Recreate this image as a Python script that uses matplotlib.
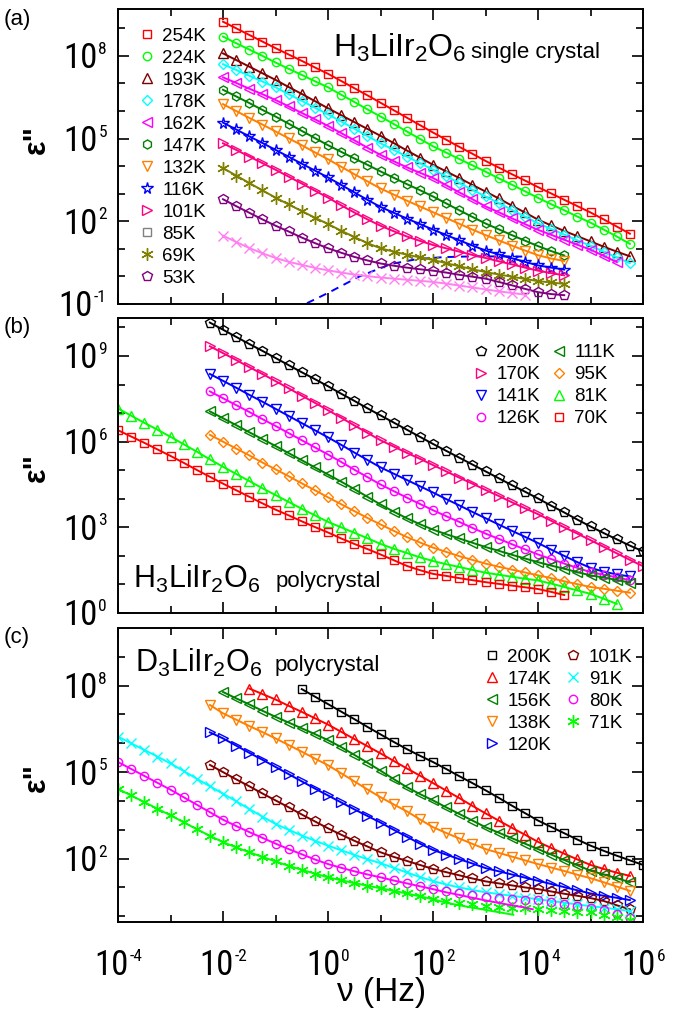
import numpy as np
import matplotlib
matplotlib.use("Agg")
import matplotlib.pyplot as plt
from matplotlib.lines import Line2D
from matplotlib.ticker import NullFormatter
from matplotlib.transforms import blended_transform_factory, offset_copy
from matplotlib import font_manager as fm

# ------------------------------------------------------------------
# DATA : log10(eps''), on a 0.25-decade grid
# ------------------------------------------------------------------
STEP = 0.25

# panel (a)  H3LiIr2O6 single crystal  (all series start at 10^-2 Hz)
a_start = -2.0
a_254K = [9.24, 9.00, 8.76, 8.52, 8.28, 8.05, 7.82, 7.58, 7.35, 7.09, 6.83, 6.57, 6.30, 6.03, 5.76, 5.49,
          5.22, 4.96, 4.70, 4.45, 4.19, 3.95, 3.71, 3.48, 3.24, 3.01, 2.78, 2.55, 2.32, 2.07, 1.81, 1.55]
a_224K = [8.70, 8.46, 8.23, 8.00, 7.76, 7.53, 7.31, 7.08, 6.86, 6.59, 6.33, 6.06, 5.80, 5.53, 5.26, 4.99,
          4.72, 4.49, 4.26, 4.03, 3.80, 3.56, 3.33, 3.09, 2.85, 2.62, 2.40, 2.17, 1.95, 1.70, 1.45, 1.18]
a_193K = [8.09, 7.85, 7.61, 7.37, 7.13, 6.87, 6.62, 6.36, 6.10, 5.85, 5.60, 5.35, 5.10, 4.84, 4.57, 4.31,
          4.05, 3.81, 3.57, 3.32, 3.08, 2.83, 2.57, 2.32, 2.06, 1.85, 1.65, 1.46, 1.27, 1.08, 0.90, 0.73]
a_178K = [7.70, 7.49, 7.28, 7.07, 6.86, 6.61, 6.37, 6.12, 5.88, 5.62, 5.36, 5.09, 4.83, 4.59, 4.35, 4.11,
          3.87, 3.63, 3.39, 3.14, 2.90, 2.66, 2.42, 2.17, 1.93, 1.72, 1.52, 1.31, 1.11, 0.90, 0.69, 0.48]
a_162K = [7.22, 7.02, 6.81, 6.61, 6.40, 6.17, 5.93, 5.70, 5.46, 5.20, 4.94, 4.67, 4.41, 4.18, 3.96, 3.76,
          3.57, 3.31, 3.05, 2.80, 2.54, 2.33, 2.11, 1.90, 1.69, 1.51, 1.33, 1.15, 0.97, 0.75, 0.52]
a_147K = [6.77, 6.53, 6.29, 6.04, 5.80, 5.54, 5.28, 5.02, 4.76, 4.52, 4.28, 4.05, 3.81, 3.58, 3.35, 3.13,
          2.90, 2.65, 2.40, 2.16, 1.92, 1.71, 1.50, 1.30, 1.10, 0.92, 0.76]
a_132K = [6.25, 6.00, 5.75, 5.51, 5.26, 5.01, 4.76, 4.50, 4.25, 3.98, 3.71, 3.45, 3.19, 2.97, 2.75, 2.54,
          2.33, 2.12, 1.91, 1.70, 1.50, 1.31, 1.12, 0.94, 0.77, 0.65, 0.56]
a_116K = [5.58, 5.33, 5.08, 4.84, 4.59, 4.34, 4.09, 3.84, 3.59, 3.32, 3.05, 2.78, 2.52, 2.31, 2.10, 1.90,
          1.70, 1.50, 1.31, 1.12, 0.94, 0.80, 0.66, 0.53, 0.40, 0.32, 0.25]
a_101K = [4.83, 4.59, 4.35, 4.11, 3.87, 3.62, 3.37, 3.11, 2.86, 2.58, 2.32, 2.07, 1.84, 1.64, 1.45, 1.29,
          1.14, 1.02, 0.90, 0.78, 0.67, 0.55, 0.44, 0.32, 0.21, 0.12, 0.04]
a_69K = [3.93, 3.66, 3.39, 3.12, 2.86, 2.61, 2.37, 2.13, 1.90, 1.66, 1.43, 1.21, 1.02, 0.90, 0.79, 0.69,
         0.60, 0.48, 0.37, 0.26, 0.16, 0.07, -0.01, -0.09, -0.17, -0.22, -0.27]
a_53K = [2.80, 2.55, 2.31, 2.07, 1.84, 1.63, 1.41, 1.21, 1.02, 0.86, 0.71, 0.58, 0.47, 0.39, 0.32, 0.26,
         0.21, 0.14, 0.06, -0.01, -0.08, -0.20, -0.32, -0.45, -0.57, -0.64, -0.68]
a_85K = [1.48, 1.25, 1.03, 0.84, 0.67, 0.53, 0.42, 0.31, 0.22, 0.14, 0.07, 0.01, -0.04, -0.08, -0.12, -0.16,
         -0.20, -0.26, -0.33, -0.40, -0.47, -0.54, -0.60, -0.66]
# blue dashed relaxation curve in (a)
a_dash_logf = [-0.4, 0.0, 0.6, 1.2, 1.7, 2.2, 2.8, 3.7]
a_dash_logv = [-0.97, -0.60, 0.00, 0.45, 0.63, 0.70, 0.73, 0.72]

# panel (b)  H3LiIr2O6 polycrystal
b_start_hi = -2.25
b_start_lo = -4.0
b_200K = [10.17, 9.92, 9.67, 9.42, 9.18, 8.93, 8.68, 8.43, 8.19, 7.94, 7.68, 7.43, 7.17, 6.92, 6.67, 6.42,
          6.17, 5.92, 5.68, 5.44, 5.20, 4.96, 4.72, 4.48, 4.25, 4.01, 3.76, 3.52, 3.27, 3.03, 2.80, 2.58,
          2.36, 2.16]
b_170K = [9.34, 9.10, 8.86, 8.61, 8.37, 8.12, 7.87, 7.61, 7.36, 7.10, 6.84, 6.57, 6.31, 6.05, 5.83, 5.61,
          5.40, 5.18, 4.96, 4.74, 4.53, 4.31, 4.10, 3.88, 3.67, 3.46, 3.23, 3.00, 2.78, 2.55, 2.32, 2.09,
          1.86, 1.64]
b_141K = [8.37, 8.13, 7.89, 7.64, 7.40, 7.15, 6.90, 6.65, 6.40, 6.15, 5.89, 5.62, 5.36, 5.10, 4.88, 4.66,
          4.44, 4.22, 3.99, 3.77, 3.54, 3.32, 3.10, 2.88, 2.67, 2.45, 2.22, 2.00, 1.78, 1.58, 1.45, 1.35, 1.28]
b_126K = [7.76, 7.52, 7.28, 7.04, 6.79, 6.55, 6.30, 6.05, 5.80, 5.55, 5.29, 5.02, 4.76, 4.50, 4.27, 4.04,
          3.82, 3.60, 3.39, 3.19, 2.98, 2.78, 2.60, 2.41, 2.23, 2.05, 1.89, 1.73, 1.58, 1.43, 1.34, 1.25, 1.15]
b_111K = [7.06, 6.82, 6.58, 6.33, 6.09, 5.85, 5.60, 5.35, 5.10, 4.85, 4.60, 4.34, 4.07, 3.80, 3.55, 3.32,
          3.11, 2.92, 2.76, 2.61, 2.46, 2.31, 2.18, 2.04, 1.91, 1.78, 1.66, 1.55, 1.43, 1.32, 1.24, 1.16, 1.06]
b_95K = [6.24, 6.00, 5.76, 5.52, 5.27, 5.03, 4.79, 4.54, 4.30, 4.05, 3.81, 3.57, 3.33, 3.10, 2.88, 2.66,
         2.47, 2.29, 2.14, 1.99, 1.86, 1.73, 1.62, 1.52, 1.42, 1.32, 1.22, 1.11, 1.01, 0.91, 0.85, 0.78, 0.71]
b_81K = [7.16, 6.91, 6.66, 6.42, 6.17, 5.91, 5.65, 5.38, 5.12, 4.87, 4.62, 4.37, 4.13, 3.89, 3.65, 3.42,
         3.19, 3.00, 2.81, 2.62, 2.42, 2.25, 2.10, 1.95, 1.82, 1.71, 1.61, 1.51, 1.41, 1.34, 1.27, 1.20,
         1.14, 1.03, 0.91, 0.79, 0.67, 0.50, 0.32]
b_70K = [6.40, 6.18, 5.96, 5.73, 5.50, 5.26, 5.01, 4.77, 4.53, 4.30, 4.07, 3.84, 3.62, 3.42, 3.21, 3.01,
         2.82, 2.61, 2.42, 2.24, 2.05, 1.85, 1.65, 1.50, 1.37, 1.30, 1.22, 1.15, 1.08, 1.02, 0.96, 0.90,
         0.84, 0.74, 0.63]

# panel (c)  D3LiIr2O6 polycrystal
c_200K_start = -0.5
c_200K = [7.88, 7.62, 7.36, 7.10, 6.84, 6.57, 6.31, 6.05, 5.80, 5.57, 5.35, 5.11, 4.86, 4.62, 4.37, 4.11,
          3.84, 3.58, 3.32, 3.10, 2.88, 2.66, 2.45, 2.27, 2.10, 1.94, 1.78]
c_174K_start = -1.5
c_174K = [7.90, 7.71, 7.52, 7.30, 7.09, 6.87, 6.65, 6.40, 6.15, 5.90, 5.65, 5.39, 5.13, 4.88, 4.62, 4.36,
          4.10, 3.83, 3.57, 3.32, 3.07, 2.83, 2.58, 2.37, 2.17, 1.97, 1.78, 1.64, 1.51, 1.40]
c_156K_start = -2.0
c_156K = [7.78, 7.56, 7.35, 7.13, 6.92, 6.72, 6.52, 6.32, 6.11, 5.87, 5.60, 5.33, 5.05, 4.76, 4.48, 4.24,
          4.02, 3.78, 3.55, 3.32, 3.09, 2.90, 2.71, 2.52, 2.33, 2.14, 1.95, 1.77, 1.58, 1.45, 1.32, 1.18]
c_mid_start = -2.25
c_138K = [7.33, 7.04, 6.82, 6.60, 6.39, 6.17, 5.94, 5.71, 5.47, 5.24, 4.96, 4.68, 4.40, 4.13, 3.88, 3.64,
          3.36, 3.09, 2.89, 2.70, 2.51, 2.33, 2.20, 2.07, 1.94, 1.81, 1.69, 1.57, 1.44, 1.32, 1.18, 1.03, 0.88]
c_120K = [6.38, 6.17, 5.92, 5.67, 5.43, 5.18, 4.93, 4.68, 4.43, 4.19, 3.95, 3.71, 3.48, 3.25, 3.00, 2.76,
          2.52, 2.30, 2.14, 1.98, 1.83, 1.67, 1.56, 1.45, 1.34, 1.23, 1.12, 1.01, 0.90, 0.79, 0.71, 0.64, 0.56]
c_101K = [5.25, 5.00, 4.75, 4.51, 4.26, 4.02, 3.78, 3.53, 3.29, 3.05, 2.83, 2.62, 2.42, 2.22, 2.06, 1.92,
          1.78, 1.64, 1.53, 1.42, 1.31, 1.21, 1.14, 1.07, 1.00, 0.94, 0.86, 0.78, 0.71, 0.63, 0.53, 0.38, 0.24]
c_lo_start = -4.0
c_91K = [6.23, 6.00, 5.77, 5.54, 5.30, 5.04, 4.77, 4.51, 4.25, 3.99, 3.72, 3.46, 3.20, 3.00, 2.80, 2.62,
         2.45, 2.29, 2.13, 1.98, 1.84, 1.68, 1.52, 1.36, 1.22, 1.10, 1.00, 0.91, 0.83, 0.77, 0.71, 0.65,
         0.59, 0.53, 0.47, 0.41, 0.35, 0.30, 0.24, 0.18]
c_80K = [5.35, 5.11, 4.87, 4.63, 4.39, 4.13, 3.87, 3.61, 3.35, 3.13, 2.92, 2.72, 2.52, 2.33, 2.15, 1.97,
         1.81, 1.68, 1.56, 1.45, 1.35, 1.24, 1.14, 1.04, 0.94, 0.87, 0.80, 0.73, 0.67, 0.64, 0.61, 0.58,
         0.55, 0.49, 0.43, 0.37, 0.30, 0.20, 0.08, -0.05]
c_71K = [4.42, 4.19, 3.96, 3.73, 3.50, 3.26, 3.02, 2.79, 2.57, 2.39, 2.22, 2.06, 1.90, 1.75, 1.61, 1.48,
         1.35, 1.25, 1.15, 1.06, 0.97, 0.88, 0.79, 0.69, 0.59, 0.53, 0.47, 0.41, 0.36, 0.33, 0.30, 0.27,
         0.24, 0.21, 0.18, 0.16, 0.13, 0.05, -0.04, -0.12]
# fit-line tails (80K, 71K) where the fit departs from the data
c_80K_tail_logf = [2.25, 2.5, 2.75, 3.0, 3.25, 3.5, 3.75, 3.9]
c_80K_tail_logv = [0.83, 0.74, 0.64, 0.55, 0.46, 0.38, 0.30, 0.24]
c_71K_tail_logf = [2.25, 2.5, 2.75, 3.0, 3.25, 3.53]
c_71K_tail_logv = [0.47, 0.38, 0.30, 0.22, 0.14, 0.05]

x_major = [-4, -2, 0, 2, 4, 6]
x_minor = [-3, -1, 1, 3, 5]

# ------------------------------------------------------------------
# STYLE
# ------------------------------------------------------------------
avail = {f.name for f in fm.fontManager.ttflist}
NARROW = next((n for n in ['Liberation Sans Narrow', 'Arial Narrow', 'Roboto Condensed'] if n in avail), None)
if NARROW:
    TICKFONT, FS_B, FS_E = NARROW, 25, 12.5
else:
    TICKFONT, FS_B, FS_E = 'Liberation Sans', 21, 11
plt.rcParams['font.family'] = ['Liberation Sans', 'DejaVu Sans']
plt.rcParams['mathtext.fontset'] = 'custom'
plt.rcParams['mathtext.rm'] = 'Liberation Sans'
plt.rcParams['mathtext.it'] = 'Liberation Sans:italic'
plt.rcParams['mathtext.bf'] = 'Liberation Sans:bold'

RED, GREEN, MAROON, CYAN = '#FF0000', '#00FF00', '#800000', '#00FFFF'
MAG, DKGREEN, ORANGE, BLUE = '#FF00FF', '#008000', '#FF8000', '#0000FF'
PINK, OLIVE, PURPLE, LPINK = '#FF0080', '#808000', '#800080', '#FF80F0'
BLACK, GRAY = '#000000', '#808080'
AST = (6, 2, 0)
MEW = 1.0

W, H = 688, 1011
fig = plt.figure(figsize=(W / 100, H / 100), dpi=100)
renderer = fig.canvas.get_renderer()
PX = 100 / 72.0   # pixels per point


def ax_at(left, top, right, bottom):
    return fig.add_axes([left / W, 1 - bottom / H, (right - left) / W, (bottom - top) / H])


axA = ax_at(118, 9, 643, 304)
axB = ax_at(118, 318, 643, 613)
axC = ax_at(118, 628, 643, 922)


def draw(ax, start, vals, color, marker, ms, line=True, z=2):
    lf = start + STEP * np.arange(len(vals))
    ax.plot(10 ** lf, 10 ** np.asarray(vals), color=color, lw=1.4 if line else 0,
            marker=marker, ms=ms, mfc='none', mec=color, mew=MEW, zorder=z)


def handle(color, marker, ms):
    return Line2D([], [], ls='none', marker=marker, ms=ms, mfc='none', mec=color, mew=MEW, color=color)


def pow_labels(ax, axis, exps):
    """'10' plus a small raised exponent, drawn as two real text objects."""
    for e in exps:
        es = '%d' % e
        if axis == 'y':
            tr = blended_transform_factory(ax.transAxes, ax.transData)
            te = ax.text(0, 10.0 ** e, es, fontsize=FS_E, fontfamily=TICKFONT, ha='right', va='baseline',
                         transform=offset_copy(tr, fig=fig, x=-11, y=2, units='dots'))
            we = te.get_window_extent(renderer).width
            ax.text(0, 10.0 ** e, '10', fontsize=FS_B, fontfamily=TICKFONT, ha='right', va='baseline',
                    transform=offset_copy(tr, fig=fig, x=-11 - we - 1, y=-0.358 * FS_B * PX, units='dots'))
        else:
            tr = blended_transform_factory(ax.transData, ax.transAxes)
            tb = ax.text(10.0 ** e, 0, '10', fontsize=FS_B, fontfamily=TICKFONT, ha='left', va='baseline')
            te = ax.text(10.0 ** e, 0, es, fontsize=FS_E, fontfamily=TICKFONT, ha='left', va='baseline')
            wb = tb.get_window_extent(renderer).width
            we = te.get_window_extent(renderer).width
            left = -(wb + we + 1) / 2.0
            centre = 41
            base_y = -(centre + 0.358 * FS_B * PX)
            top_digits = -(centre - 0.358 * FS_B * PX)
            tb.set_transform(offset_copy(tr, fig=fig, x=left, y=base_y, units='dots'))
            te.set_transform(offset_copy(tr, fig=fig, x=left + wb + 1,
                                         y=top_digits + 2 - 0.716 * FS_E * PX, units='dots'))


def setup(ax, ylim, ymaj, ymin, xlabels):
    ax.set_xscale('log')
    ax.set_yscale('log')
    ax.set_xlim(1e-4, 1e6)
    ax.set_ylim(*ylim)
    ax.set_xticks([10.0 ** e for e in x_major])
    ax.set_xticks([10.0 ** e for e in x_minor], minor=True)
    ax.set_yticks([10.0 ** e for e in ymaj])
    ax.set_yticks([10.0 ** e for e in ymin], minor=True)
    ax.xaxis.set_minor_formatter(NullFormatter())
    ax.yaxis.set_minor_formatter(NullFormatter())
    ax.set_xticklabels([])
    ax.set_yticklabels([])
    pow_labels(ax, 'y', ymaj)
    if xlabels:
        pow_labels(ax, 'x', x_major)
    ax.tick_params(which='both', direction='in', top=True, right=True, width=1.2)
    ax.tick_params(which='major', length=8)
    ax.tick_params(which='minor', length=5)
    for s in ax.spines.values():
        s.set_linewidth(1.4)


LEG = dict(frameon=False, prop={'family': 'Liberation Sans', 'size': 13.5}, handlelength=1.0,
           handletextpad=0.32, labelspacing=0.26, borderpad=0, borderaxespad=0)

# ---------------- panel (a) ----------------
setup(axA, (1e-1, 10 ** 9.7), [-1, 2, 5, 8], [0, 1, 3, 4, 6, 7, 9], False)
axA.plot(10 ** np.asarray(a_dash_logf), 10 ** np.asarray(a_dash_logv), color=BLUE, lw=1.4, ls=(0, (4, 3)), zorder=1)
a_series = [
    (a_254K, RED, 's', 5.5), (a_224K, GREEN, 'o', 6), (a_193K, MAROON, '^', 6.5), (a_178K, CYAN, 'D', 5.5),
    (a_162K, MAG, '<', 6.5), (a_147K, DKGREEN, 'h', 6.5), (a_132K, ORANGE, 'v', 6.5), (a_116K, BLUE, '*', 8.5),
    (a_101K, PINK, '>', 6.5), (a_69K, OLIVE, AST, 9), (a_53K, PURPLE, 'p', 7), (a_85K, LPINK, 'x', 7),
]
for vals, c, m, ms in a_series:
    draw(axA, a_start, vals, c, m, ms)
a_leg_labels = ['254K', '224K', '193K', '178K', '162K', '147K', '132K', '116K', '101K', '85K', '69K', '53K']
a_leg_handles = [handle(RED, 's', 5.5), handle(GREEN, 'o', 6), handle(MAROON, '^', 6.5), handle(CYAN, 'D', 5.5),
                 handle(MAG, '<', 6.5), handle(DKGREEN, 'h', 6.5), handle(ORANGE, 'v', 6.5), handle(BLUE, '*', 8.5),
                 handle(PINK, '>', 6.5), handle(GRAY, 's', 5.5), handle(OLIVE, AST, 9), handle(PURPLE, 'p', 7)]
axA.legend(a_leg_handles, a_leg_labels, loc='upper left', bbox_to_anchor=(0.0373, 0.936), **LEG)

# ---------------- panel (b) ----------------
setup(axB, (1, 10 ** 10.33), [0, 3, 6, 9], [1, 2, 4, 5, 7, 8, 10], False)
b_series = [
    (b_start_hi, b_200K, BLACK, 'p', 7), (b_start_hi, b_170K, PINK, '>', 6.5), (b_start_hi, b_141K, BLUE, 'v', 6.5),
    (b_start_hi, b_126K, MAG, 'o', 6), (b_start_hi, b_111K, DKGREEN, '<', 6.5), (b_start_hi, b_95K, ORANGE, 'D', 5.5),
    (b_start_lo, b_81K, GREEN, '^', 6.5), (b_start_lo, b_70K, RED, 's', 5.5),
]
for st, vals, c, m, ms in b_series:
    draw(axB, st, vals, c, m, ms)
b_labels = ['200K', '170K', '141K', '126K', '111K', '95K', '81K', '70K']
b_handles = [handle(c, m, ms) for st, v, c, m, ms in b_series]
axB.legend(b_handles, b_labels, ncol=2, loc='upper left', bbox_to_anchor=(0.6735, 0.911),
           columnspacing=0.5, **LEG)

# ---------------- panel (c) ----------------
setup(axC, (10 ** -0.2, 1e10), [2, 5, 8], [0, 1, 3, 4, 6, 7, 9], True)
c_series = [
    (c_200K_start, c_200K, BLACK, 's', 5.5, True), (c_174K_start, c_174K, RED, '^', 6.5, True),
    (c_156K_start, c_156K, DKGREEN, '<', 6.5, True), (c_mid_start, c_138K, ORANGE, 'v', 6.5, True),
    (c_mid_start, c_120K, BLUE, '>', 6.5, True), (c_mid_start, c_101K, MAROON, 'p', 7, True),
    (c_lo_start, c_91K, CYAN, 'x', 7, True), (c_lo_start, c_80K, MAG, 'o', 6, False),
    (c_lo_start, c_71K, GREEN, AST, 9, False),
]
for st, vals, c, m, ms, ln in c_series:
    draw(axC, st, vals, c, m, ms, line=ln)
# fit lines for 80K and 71K (data part up to 10^2 Hz, then the fitted tail)
n2 = int(round((2 - c_lo_start) / STEP)) + 1
for vals, tf, tv, c in [(c_80K, c_80K_tail_logf, c_80K_tail_logv, MAG), (c_71K, c_71K_tail_logf, c_71K_tail_logv, GREEN)]:
    lf = np.concatenate([c_lo_start + STEP * np.arange(n2), tf])
    lv = np.concatenate([np.asarray(vals[:n2]), tv])
    axC.plot(10 ** lf, 10 ** lv, color=c, lw=1.4, zorder=2)
c_labels = ['200K', '174K', '156K', '138K', '120K', '101K', '91K', '80K', '71K']
c_handles = [handle(c, m, ms) for st, v, c, m, ms, ln in c_series]
axC.legend(c_handles, c_labels, ncol=2, loc='upper left', bbox_to_anchor=(0.6945, 0.93),
           columnspacing=0.67, **LEG)

# ---------------- texts ----------------
def fx(px):
    return px / W


def fy(py):
    return 1 - py / H


fig.text(fx(333), fy(57), r'H$\mathregular{_3}$LiIr$\mathregular{_2}$O$\mathregular{_6}$', fontsize=23, va='baseline')
fig.text(fx(471), fy(58), 'single crystal', fontsize=16, va='baseline')
fig.text(fx(133), fy(588), r'H$\mathregular{_3}$LiIr$\mathregular{_2}$O$\mathregular{_6}$', fontsize=22, va='baseline')
fig.text(fx(276), fy(587), 'polycrystal', fontsize=16, va='baseline')
fig.text(fx(135), fy(672), r'D$\mathregular{_3}$LiIr$\mathregular{_2}$O$\mathregular{_6}$', fontsize=22, va='baseline')
fig.text(fx(275), fy(671), 'polycrystal', fontsize=16, va='baseline')

for lab, yy in [('(a)', 19), ('(b)', 327), ('(c)', 637)]:
    fig.text(fx(4), fy(yy), lab, fontsize=16, va='center', ha='left')
for yy in [140, 468, 777]:
    fig.text(fx(37), fy(yy), 'ε"', fontsize=22, fontweight='bold', rotation=90, va='center', ha='center')

fig.text(fx(382), fy(1001), 'ν (Hz)', fontsize=24, ha='center', va='baseline')

fig.savefig('out.png', dpi=100)
